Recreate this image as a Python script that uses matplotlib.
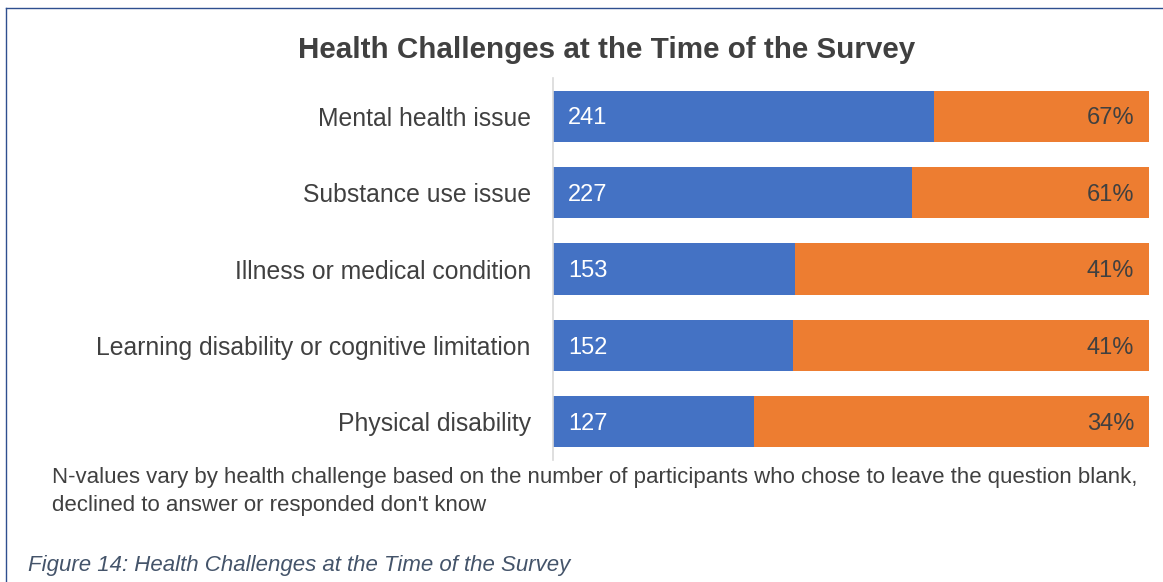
import matplotlib.pyplot as plt
from matplotlib.lines import Line2D

plt.rcParams['font.family'] = ['Liberation Sans', 'DejaVu Sans']

categories = ["Mental health issue", "Substance use issue", "Illness or medical condition",
              "Learning disability or cognitive limitation", "Physical disability"]
counts = [241, 227, 153, 152, 127]
percents = [67, 61, 41, 41, 34]
total = 377  # bar full length (count scale)

blue = "#4472C4"
orange = "#ED7D31"
gray = "#404040"

fig = plt.figure(figsize=(11.63, 5.82), dpi=100)
ax = fig.add_axes([0.4755, 0.2096, 0.988 - 0.4755, 0.866 - 0.2096])

y = list(range(len(categories)))
rest = [total - c for c in counts]
ax.barh(y, counts, height=0.67, color=blue)
ax.barh(y, rest, left=counts, height=0.67, color=orange)

for i, (c, p) in enumerate(zip(counts, percents)):
    ax.text(total * 0.025, i + 0.03, str(c), color="white", fontsize=17, va="center", ha="left")
    ax.text(total * 0.975, i + 0.03, f"{p}%", color=gray, fontsize=17, va="center", ha="right")

ax.set_xlim(0, total)
ax.set_ylim(len(categories) - 0.5, -0.5)
ax.set_yticks(y)
ax.set_yticklabels(categories, fontsize=17.8, color=gray)
ax.tick_params(axis="y", length=0, pad=16)
ax.set_xticks([])
for s in ["top", "right", "bottom"]:
    ax.spines[s].set_visible(False)
ax.spines["left"].set_color("#D9D9D9")
ax.spines["left"].set_linewidth(1.2)

fig.text(607 / 1163, 1 - 50 / 582, "Health Challenges at the Time of the Survey",
         fontsize=21.3, fontweight="bold", color=gray, ha="center", va="center")

fig.text(52 / 1163, 1 - 478 / 582,
         "N-values vary by health challenge based on the number of participants who chose to leave the question blank,",
         fontsize=16, color=gray, ha="left", va="center")
fig.text(52 / 1163, 1 - 505 / 582, "declined to answer or responded don't know",
         fontsize=16, color=gray, ha="left", va="center")

fig.text(28 / 1163, 1 - 565 / 582, "Figure 14: Health Challenges at the Time of the Survey",
         fontsize=16, style="italic", color="#44546A", ha="left", va="center")

# thin frame lines at top and left
fig.add_artist(Line2D([6 / 1163, 1], [1 - 8 / 582, 1 - 8 / 582], color="#2F4F8F", linewidth=1))
fig.add_artist(Line2D([6 / 1163, 6 / 1163], [0, 1 - 8 / 582], color="#2F4F8F", linewidth=1))

fig.savefig("out.png", dpi=100)
